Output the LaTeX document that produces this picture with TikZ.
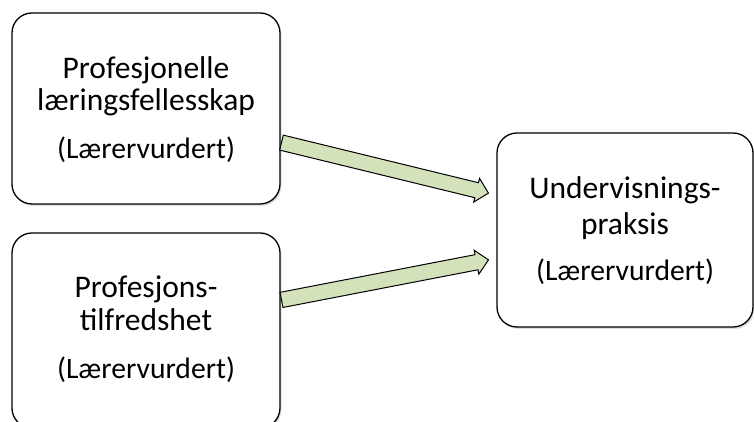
\documentclass[tikz,border=0pt]{standalone}
\usepackage{fontspec}
\setmainfont{Carlito}
\usetikzlibrary{shapes.arrows,calc,shadows}
\definecolor{arrowgreen}{HTML}{D4E2BC}
\begin{document}
\begin{tikzpicture}[x=1pt,y=1pt,
  box/.style={draw=black, line width=1.3pt, rounded corners=20pt, fill=white,
    drop shadow={shadow xshift=1.5pt, shadow yshift=-2pt, opacity=0.25}},
  lbl/.style={font=\fontsize{31.5}{31.5}\selectfont, inner sep=0pt, anchor=base},
  sub/.style={font=\fontsize{29.6}{30}\selectfont, inner sep=0pt, anchor=base},
  blockarrow/.style={single arrow, draw=black, line width=1pt, fill=arrowgreen,
    inner xsep=0pt, inner ysep=7.2pt, minimum width=0pt,
    single arrow head extend=4.5pt, single arrow tip angle=90, anchor=tail}
]
\useasboundingbox (0,0) rectangle (754,422);
\begin{scope}
\clip (0,0) rectangle (754,422);
\draw[box] (12,218) rectangle (280,409);
\draw[box] (12,-6) rectangle (280,189);
\draw[box] (497,95) rectangle (753,289);
\end{scope}
\node[lbl] (t1a) at (146,343) {Profesjonelle};
\node[lbl] (t1b) at (146,311) {læringsfellesskap};
\node[sub] (s1) at (146,263) {(Lærervurdert)};
\node[lbl] (t2a) at (146,124) {Profesjons-};
\node[lbl] (t2b) at (146,91) {tilfredshet};
\node[sub] (s2) at (146,43) {(Lærervurdert)};
\node[lbl] (t3a) at (625,223) {Undervisnings-};
\node[lbl] (t3b) at (625,187) {praksis};
\node[sub] (s3) at (625,141) {(Lærervurdert)};
\coordinate (a1s) at (281,279.5);
\coordinate (a1e) at (488,229);
\coordinate (a2s) at (281,122);
\coordinate (a2e) at (488,162);
\path let \p1=(a1s), \p2=(a1e), \n1={atan2(\y2-\y1,\x2-\x1)}, \n2={veclen(\x2-\x1,\y2-\y1)} in
  node[blockarrow, rotate=\n1, minimum height=\n2] (ar1) at (\p1) {};
\path let \p1=(a2s), \p2=(a2e), \n1={atan2(\y2-\y1,\x2-\x1)}, \n2={veclen(\x2-\x1,\y2-\y1)} in
  node[blockarrow, rotate=\n1, minimum height=\n2] (ar2) at (\p1) {};
\end{tikzpicture}
\end{document}
